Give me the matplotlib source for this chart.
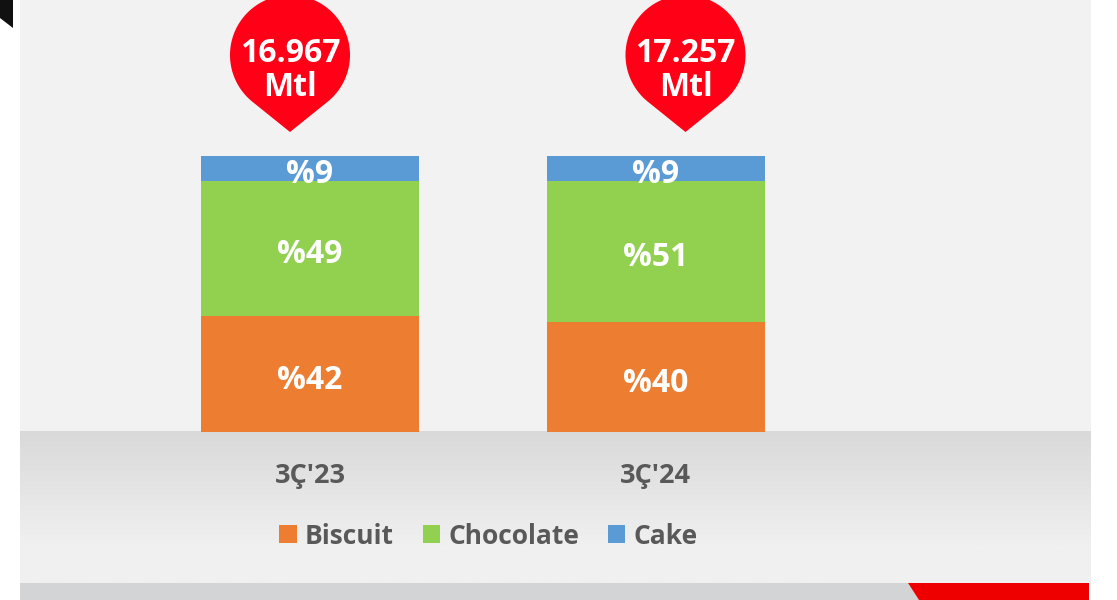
import numpy as np
import matplotlib
matplotlib.use("Agg")
import matplotlib.pyplot as plt
from matplotlib.patches import Polygon, Rectangle, Patch
from matplotlib.transforms import blended_transform_factory, offset_copy

# ---- data ----
categories = ["3Ç'23", "3Ç'24"]
series_names = ["Biscuit", "Chocolate", "Cake"]
biscuit = [42, 40]
chocolate = [49, 51]
cake = [9, 9]
totals_labels = ["16.967", "17.257"]
unit_label = "Mtl"
colors = ["#ED7D31", "#92D050", "#5B9BD5"]

FONT = "Open Sans"
plt.rcParams['font.family'] = [FONT, 'DejaVu Sans']

W, H = 1117, 600
fig = plt.figure(figsize=(W / 100, H / 100), dpi=100, facecolor="white")

# background axes in pixel coordinates (y down)
bg = fig.add_axes([0, 0, 1, 1], zorder=0)
bg.set_xlim(0, W)
bg.set_ylim(H, 0)
bg.axis("off")

PL, PR, PB = 20, 1091, 583
BAND_TOP = 431
bg.add_patch(Rectangle((PL, 0), PR - PL, PB, facecolor="#F2F2F2", edgecolor="none", zorder=1))
# gradient band
grad = np.concatenate([np.linspace(0, 1, 120), np.ones(40)])[:, None]
c0 = np.array([0xD9, 0xD9, 0xD9]) / 255
c1 = np.array([0xF0, 0xF0, 0xF0]) / 255
img = c0[None, None, :] * (1 - grad[..., None]) + c1[None, None, :] * grad[..., None]
img = np.repeat(img, 2, axis=1)
bg.imshow(img, extent=[PL, PR, PB, BAND_TOP], aspect="auto", interpolation="bilinear", zorder=2)
# bottom strip
bg.add_patch(Polygon([(PL, PB), (908, PB), (919, H), (PL, H)], closed=True,
                     facecolor="#D3D4D5", edgecolor="none", zorder=2))
bg.add_patch(Polygon([(908, PB), (1089, PB), (1089, H), (919, H)], closed=True,
                     facecolor="#EE0000", edgecolor="none", zorder=2))
# black corner shape
bg.add_patch(Polygon([(0, 0), (13, 0), (13, 28), (0, 18)], closed=True,
                     facecolor="#111111", edgecolor="none", zorder=2))
bg.set_xlim(0, W)
bg.set_ylim(H, 0)

# data axes
BAR_TOP_PX, BAR_BOT_PX = 156, 432
ax = fig.add_axes([PL / W, (H - BAR_BOT_PX) / H, (PR - PL) / W, (BAR_BOT_PX - BAR_TOP_PX) / H],
                  zorder=1)
ax.patch.set_alpha(0)
spacing = 345.5
xmin = -(310 - PL) / spacing
ax.set_xlim(xmin, xmin + (PR - PL) / spacing)
ax.set_ylim(0, 100)
ax.axis("off")

x = np.arange(len(categories))
bw = 218 / spacing
bottoms = np.zeros(len(categories))
handles = []
lab_trans = offset_copy(ax.transData, fig=fig, x=0, y=-15, units="dots")
for vals, name, col in zip([biscuit, chocolate, cake], series_names, colors):
    vals = np.array(vals, dtype=float)
    ax.bar(x, vals, bw, bottom=bottoms, color=col, edgecolor="none", zorder=2)
    for xi, b, v in zip(x, bottoms, vals):
        ax.text(xi, b + v / 2, f"%{int(v)}", ha="center", va="baseline",
                transform=lab_trans, color="white", fontsize=23,
                fontweight="bold", zorder=4)
    bottoms += vals
    handles.append(Patch(facecolor=col, edgecolor="none", label=name))

# mixed transform: x in data, y in image pixels
mix = blended_transform_factory(ax.transData, bg.transData)

for xi, cat in zip(x, categories):
    ax.text(xi, 483, cat, transform=mix, ha="center", va="baseline",
            color="#595959", fontsize=19.5, fontweight="bold")

# balloons (horizontal offsets from bar centres, in pixels)
balloon_dx = [-20, 30]
r = 60.0
for xi, tot, dx in zip(x, totals_labels, balloon_dx):
    px = bg.transData.inverted().transform(ax.transData.transform((xi, 0)))[0] + dx
    tip_y = 132.0
    cy = tip_y - 77.0
    d = tip_y - cy
    th = np.degrees(np.arccos(r / d))
    a0 = 90 + th
    a1 = 90 - th + 360
    ang = np.radians(np.linspace(a0, a1, 200))
    pts = [(px + r * np.cos(a), cy + r * np.sin(a)) for a in ang]
    pts.append((px, tip_y))
    bg.add_patch(Polygon(pts, closed=True, facecolor="#FF0016", edgecolor="none", zorder=3))
    bg.text(px, 62, tot, ha="center", va="baseline", color="white",
            fontsize=23, fontweight="bold", zorder=4)
    bg.text(px, 96, unit_label, ha="center", va="baseline", color="white",
            fontsize=23, fontweight="bold", zorder=4)

leg = ax.legend(handles=handles, loc="center", bbox_to_anchor=(488.5, 536),
                bbox_transform=bg.transData, ncol=3, frameon=False,
                handlelength=0.66, handleheight=0.66, handletextpad=0.3,
                columnspacing=1.1, borderaxespad=0, borderpad=0,
                prop={"family": FONT, "weight": "bold", "size": 19})
for t in leg.get_texts():
    t.set_color("#595959")

fig.savefig("out.png", dpi=100, facecolor="white")
